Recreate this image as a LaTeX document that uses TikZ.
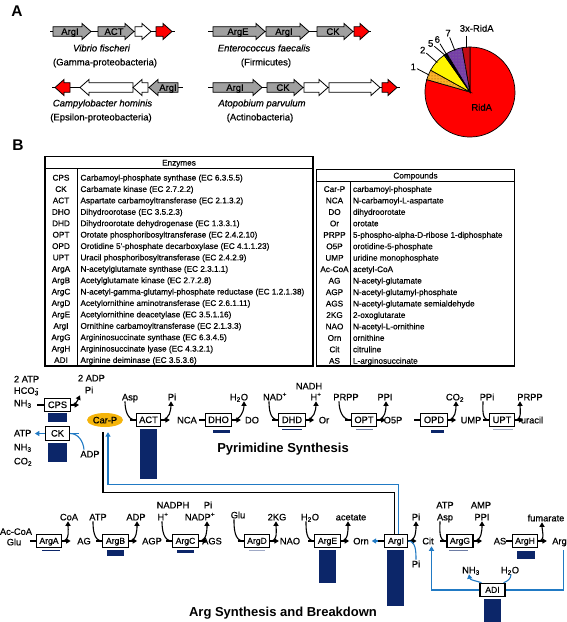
\documentclass[tikz,border=0pt]{standalone}
\usepackage{fontspec}
\setmainfont{Liberation Sans}
\newfontfamily\hv{Liberation Sans}[FakeBold=0.45]
\usetikzlibrary{arrows.meta,patterns,calc,shapes.geometric}
\definecolor{navy}{RGB}{12,38,105}
\definecolor{lineblue}{RGB}{33,122,196}
\definecolor{gold}{RGB}{245,180,10}
\definecolor{genegray}{RGB}{160,160,160}
\definecolor{pieorange}{RGB}{250,178,40}
\definecolor{pieyellow}{RGB}{255,245,0}
\definecolor{piepurple}{RGB}{118,62,168}
\definecolor{piedred}{RGB}{195,12,20}
\definecolor{thinbl}{RGB}{110,125,165}
\definecolor{lightbl}{RGB}{160,170,198}
\newcommand{\gR}[4]{\draw[gene,fill=#4] (#1,#3-4.8) -- (#2-9,#3-4.8) -- (#2-9,#3-8) -- (#2,#3) -- (#2-9,#3+8) -- (#2-9,#3+4.8) -- (#1,#3+4.8) -- cycle;}
\newcommand{\gL}[4]{\draw[gene,fill=#4] (#2,#3-4.8) -- (#1+9,#3-4.8) -- (#1+9,#3-8) -- (#1,#3) -- (#1+9,#3+8) -- (#1+9,#3+4.8) -- (#2,#3+4.8) -- cycle;}
\newcommand{\sbs}[3][-4]{\draw[rx] ([xshift=#1]#2.south) to[out=-90,in=180] (#3.west);}
\newcommand{\pds}[3][0]{\draw[rxa] (#3.east) to[out=0,in=-90] ([xshift=#1]#2.south);}
\newcommand{\tck}[1]{\draw[rx] ([xshift=-6]#1.west) -- (#1.west);}
\newcommand{\fwd}[1]{\draw[rxa] (#1.east) -- ++(8.5,0);}
\begin{document}
\begin{tikzpicture}[x=1pt,y=1pt,
  every node/.style={inner sep=0.8pt},
  pw/.style={font=\hv\fontsize{9.3}{10}\selectfont,text height=6.7pt,text depth=0pt},
  enzbox/.style={draw,line width=1.1pt,fill=white,minimum width=24pt,minimum height=13.5pt,inner xsep=3pt,inner ysep=1pt,text height=6.6pt,text depth=0.6pt,font=\hv\fontsize{9.3}{10}\selectfont},
  argbox/.style={enzbox,font=\hv\fontsize{8.6}{9}\selectfont,text height=6.2pt,minimum width=23pt},
  rx/.style={line width=1.1pt},
  rxa/.style={line width=1.1pt,-{Triangle[length=4.4pt,width=5pt]}},
  blx/.style={line width=1.1pt,draw=lineblue},
  blxa/.style={line width=1.1pt,draw=lineblue,-{Triangle[length=4.4pt,width=5pt]}},
  tabt/.style={font=\hv\fontsize{8.2}{9}\selectfont,text height=5.9pt,text depth=0pt},
  gene/.style={line width=0.8pt},
  genelab/.style={font=\hv\fontsize{9.5}{10}\selectfont,text height=6.8pt,text depth=0pt},
  spec/.style={font=\hv\fontsize{9.5}{10}\selectfont,text height=6.8pt,text depth=0pt},
  piel/.style={font=\hv\fontsize{9.5}{10}\selectfont,text height=6.8pt,text depth=0pt},
  ttl/.style={font=\bfseries\fontsize{13}{14}\selectfont,text height=9.3pt,text depth=0pt},
  panel/.style={font=\bfseries\fontsize{15.5}{16}\selectfont,text height=11pt,text depth=0pt},
]
\useasboundingbox (0,0) rectangle (567,-622);
\fill[white] (0,0) rectangle (567,-622);

% ---------------- Panel A ----------------
\node[panel] (lA) at (17,-11) {A};
% Vibrio
\draw[gene] (50,-31.5) -- (175,-31.5);
\gR{53}{91}{-31.5}{genegray}
\gR{98}{134}{-31.5}{genegray}
\gR{135}{151}{-31.5}{white}
\gR{156}{172}{-31.5}{red}
\node[genelab] (v1) at (70,-31.5) {ArgI};
\node[genelab] (v2) at (114,-31.5) {ACT};
\node[spec] (vn) at (101.5,-48) {\itshape Vibrio fischeri};
\node[spec] (vc) at (105,-62) {(Gamma-proteobacteria)};
% Enterococcus
\draw[gene] (208,-31.5) -- (371,-31.5);
\gR{213}{265}{-31.5}{genegray}
\gR{266}{309}{-31.5}{genegray}
\gR{317}{353}{-31.5}{genegray}
\gR{354}{369}{-31.5}{red}
\node[genelab] (e1) at (238,-31.5) {ArgE};
\node[genelab] (e2) at (284,-31.5) {ArgI};
\node[genelab] (e3) at (333,-31.5) {CK};
\node[spec] (en) at (264,-48) {\itshape Enterococcus faecalis};
\node[spec] (ec) at (266,-62) {(Firmicutes)};
% Campylobacter
\draw[gene] (52,-87.5) -- (183,-87.5);
\gL{55}{70}{-87.5}{red}
\gL{80}{133}{-87.5}{white}
\gL{133}{148}{-87.5}{white}
\gL{149}{178}{-87.5}{genegray}
\node[genelab] (c1) at (168,-87.5) {ArgI};
\node[spec] (cn) at (102.5,-103) {\itshape Campylobacter hominis};
\node[spec] (cc) at (101,-117) {(Epsilon-proteobacteria)};
% Atopobium
\draw[gene] (208,-87.5) -- (400,-87.5);
\gR{213}{262}{-87.5}{genegray}
\gR{267}{303}{-87.5}{genegray}
\gR{304}{328}{-87.5}{white}
\gR{329}{380}{-87.5}{white}
\gR{382}{397}{-87.5}{red}
\node[genelab] (a1) at (235,-87.5) {ArgI};
\node[genelab] (a2) at (283,-87.5) {CK};
\node[spec] (an) at (262,-103) {\itshape Atopobium parvulum};
\node[spec] (ac) at (260,-117) {(Actinobacteria)};

% pie
\coordinate (pc) at (470,-92);
\foreach \a/\b/\c in {164/450/red,151/164/pieorange,125/151/pieyellow,123/125/navy,121/123/black,100/121/piepurple,90/100/piedred}
  \draw[line width=0.7pt,fill=\c] (pc) -- ++(\a:45) arc[start angle=\a,end angle=\b,radius=45] -- cycle;
\fill[pattern=dots,pattern color=orange!55!black] (pc) -- ++(151:44) arc[start angle=151,end angle=164,radius=44] -- cycle;
\fill[pattern=dots,pattern color=black!45] (pc) -- ++(100:44) arc[start angle=100,end angle=121,radius=44] -- cycle;
\coordinate (s1) at ($(pc)+(157.5:44)$);
\coordinate (s2) at ($(pc)+(138:44)$);
\coordinate (s5) at ($(pc)+(124:44)$);
\coordinate (s6) at ($(pc)+(122:44)$);
\coordinate (s7) at ($(pc)+(110:44)$);
\coordinate (s3) at ($(pc)+(95:44)$);
\node[piel] (p1) at (413.3,-66.7) {1};
\node[piel] (p2) at (422.7,-50) {2};
\node[piel] (p5) at (430.7,-43.3) {5};
\node[piel] (p6) at (437.3,-39.3) {6};
\node[piel] (p7) at (448,-33) {7};
\node[piel] (p3) at (476.7,-28.3) {3x-RidA};
\node[piel] (pR) at (481.7,-107.3) {RidA};
\foreach \n in {1,2,5,6,7} \draw[line width=0.8pt] (p\n) -- (s\n);
\draw[line width=0.9pt] ([yshift=-3]p3.south -| s3) -- (s3);

% ---------------- Panel B tables ----------------
\node[panel] (lB) at (18,-145) {B};
\draw[line width=1.4pt] (45,-156.7) rectangle (313,-366);
\draw[line width=1pt] (45,-168.5) -- (313,-168.5);
\draw[line width=1pt] (77.3,-168.5) -- (77.3,-366);
\node[tabt] (eh) at (179,-162.6) {Enzymes};
\foreach \ab/\de [count=\i from 0] in {CPS/Carbamoyl-phosphate synthase (EC 6.3.5.5),CK/Carbamate kinase (EC 2.7.2.2),ACT/Aspartate carbamoyltransferase (EC 2.1.3.2),DHO/Dihydroorotase (EC 3.5.2.3),DHD/Dihydroorotate dehydrogenase (EC 1.3.3.1),OPT/Orotate phosphoribosyltransferase (EC 2.4.2.10),OPD/Orotidine 5'-phosphate decarboxylase (EC 4.1.1.23),UPT/Uracil phosphoribosyltransferase (EC 2.4.2.9),ArgA/N-acetylglutamate synthase (EC 2.3.1.1),ArgB/Acetylglutamate kinase (EC 2.7.2.8),ArgC/N-acetyl-gamma-glutamyl-phosphate reductase (EC 1.2.1.38),ArgD/Acetylornithine aminotransferase (EC 2.6.1.11),ArgE/Acetylornithine deacetylase (EC 3.5.1.16),ArgI/Ornithine carbamoyltransferase (EC 2.1.3.3),ArgG/Argininosuccinate synthase (EC 6.3.4.5),ArgH/Argininosuccinate lyase (EC 4.3.2.1),ADI/Arginine deiminase (EC 3.5.3.6)}
{
  \node[tabt] (ea\i) at (61,{-177.6-11.4*\i}) {\ab};
  \node[tabt,anchor=west] (ed\i) at (79.5,{-177.6-11.4*\i}) {\de};
}
\draw[line width=1.4pt] (316.7,-169.3) rectangle (514.3,-366);
\draw[line width=1pt] (316.7,-181.7) -- (514.3,-181.7);
\draw[line width=1pt] (350,-181.7) -- (350,-366);
\node[tabt] (ch) at (415.5,-175.5) {Compounds};
\foreach \ab/\de [count=\i from 0] in {Car-P/carbamoyl-phosphate,NCA/N-carbamoyl-L-aspartate,DO/dihydroorotate,Or/orotate,PRPP/5-phospho-alpha-D-ribose 1-diphosphate,O5P/orotidine-5-phosphate,UMP/uridine monophosphate,Ac-CoA/acetyl-CoA,AG/N-acetyl-glutamate,AGP/N-acetyl-glutamyl-phosphate,AGS/N-acetyl-glutamate semialdehyde,2KG/2-oxoglutarate,NAO/N-acetyl-L-ornithine,Orn/ornithine,Cit/citruline,AS/L-arginosuccinate}
{
  \node[tabt] (ca\i) at (334.5,{-189-11.45*\i}) {\ab};
  \node[tabt,anchor=west] (cd\i) at (352,{-189-11.45*\i}) {\de};
}

% ---------------- Pyrimidine row ----------------
\node[pw,anchor=west] (ATP2) at (13,-379) {2 ATP};
\node[pw,anchor=west] (HCO) at (13,-390.5) {HCO\textsubscript{3}\llap{\textsuperscript{-}}};
\node[pw,anchor=west] (NH3a) at (13,-403) {NH\textsubscript{3}};
\node[pw,anchor=west] (ADP2) at (77,-378) {2 ADP};
\node[pw,anchor=west] (Pia) at (84,-390) {Pi};
\node[enzbox] (CPS) at (57.5,-405) {CPS};
\coordinate (cpsout) at (79,-405);
\draw[rx] ([xshift=-7]CPS.west) -- (CPS.west);
\draw[rxa] (CPS.east) -- (cpsout);
\draw[rxa] (CPS.east) to[out=0,in=-115] ([xshift=-4,yshift=-1]Pia.south west);
\fill[navy] (48,-413) rectangle (67,-422);

\node[enzbox] (CK) at (57.5,-433.5) {CK};
\node[pw,anchor=west] (ATPk) at (13,-433) {ATP};
\node[pw,anchor=west] (NH3k) at (13,-447) {NH\textsubscript{3}};
\node[pw,anchor=west] (CO2k) at (13,-461) {CO\textsubscript{2}};
\node[pw] (ADPk) at (90,-454) {ADP};
\coordinate (ckin) at (79,-433.5);
\draw[blx] (ckin) -- (CK.east);
\draw[blxa,shorten >=2.5pt] (CK.west) -- (ATPk.east |- CK.west);
\draw[blx] ([xshift=-6]ADPk.north) to[out=95,in=0] (CK.east);
\fill[navy] (48,-443) rectangle (67,-462);

\node[ellipse,fill=gold,minimum width=36pt,minimum height=14pt,inner sep=0pt,pw] (CarP) at (105,-420) {Car-P};

\node[pw] (Asp1) at (130,-397) {Asp};
\node[enzbox] (ACT) at (148.5,-420) {ACT};
\node[pw] (Pi1) at (172,-397) {Pi};
\node[pw] (NCA) at (187,-420) {NCA};
\tck{ACT} \sbs[-5]{Asp1}{ACT} \pds[-1]{Pi1}{ACT} \fwd{ACT}
\fill[navy] (140,-429) rectangle (157,-479);

\node[enzbox] (DHO) at (218.5,-420) {DHO};
\node[pw] (H2Oa) at (239,-397) {H\textsubscript{2}O};
\node[pw] (DO) at (252,-420) {DO};
\tck{DHO} \pds[5]{H2Oa}{DHO} \fwd{DHO}
\fill[navy] (213,-430) rectangle (230,-433);

\node[pw] (NADp) at (275,-397) {NAD\textsuperscript{+}};
\node[enzbox] (DHD) at (292,-420) {DHD};
\node[pw] (NADH) at (309,-386) {NADH};
\node[pw] (Hp1) at (316,-397) {H\textsuperscript{+}};
\node[pw] (Or) at (324,-420) {Or};
\tck{DHD} \sbs[-6]{NADp}{DHD} \pds[0]{Hp1}{DHD} \fwd{DHD}
\draw[navy,line width=1.2pt] (282,-429.5) -- (302,-429.5);

\node[pw] (PRPPa) at (346,-397) {PRPP};
\node[enzbox] (OPT) at (364,-420) {OPT};
\node[pw] (PPIa) at (385,-397) {PPI};
\node[pw] (O5P) at (393,-420) {O5P};
\tck{OPT} \sbs[-7]{PRPPa}{OPT} \pds[1]{PPIa}{OPT} \fwd{OPT}
\draw[thinbl,line width=1pt] (356,-429.5) -- (373,-429.5);

\node[enzbox] (OPD) at (434,-420) {OPD};
\node[pw] (CO2a) at (455,-397) {CO\textsubscript{2}};
\node[pw] (UMP) at (471,-420) {UMP};
\tck{OPD} \pds[1]{CO2a}{OPD} \fwd{OPD}
\fill[navy] (431,-430) rectangle (444,-433);

\node[pw] (PPia) at (487,-397) {PPi};
\node[enzbox] (UPT) at (502,-420) {UPT};
\node[pw] (PRPPb) at (530,-397) {PRPP};
\node[pw] (uracil) at (532,-420) {uracil};
\tck{UPT} \sbs[-4]{PPia}{UPT} \pds[-10]{PRPPb}{UPT} \fwd{UPT}
\draw[lightbl,line width=1pt] (493,-429.5) -- (513,-429.5);

\node[ttl] (tPyr) at (283,-448) {Pyrimidine Synthesis};

% ---------------- Arg row ----------------
\node[pw] (AcCoA) at (16,-531.5) {Ac-CoA};
\node[pw] (GluA) at (14,-542) {Glu};
\node[argbox] (ArgA) at (49,-541) {ArgA};
\node[pw] (CoA) at (69,-517) {CoA};
\node[pw] (AG) at (84,-541) {AG};
\tck{ArgA} \pds[-1]{CoA}{ArgA} \fwd{ArgA}
\draw[navy,line width=1pt] (42,-550) -- (60,-550);

\node[pw] (ATPb) at (98,-517) {ATP};
\node[argbox] (ArgB) at (115.5,-541) {ArgB};
\node[pw] (ADPb) at (136,-517) {ADP};
\node[pw] (AGP) at (152,-541) {AGP};
\tck{ArgB} \sbs[-5]{ATPb}{ArgB} \pds[1]{ADPb}{ArgB} \fwd{ArgB}
\fill[navy] (107,-550) rectangle (124,-556);

\node[pw] (NADPH) at (173,-505) {NADPH};
\node[pw] (Hpb) at (163,-517) {H\textsuperscript{+}};
\node[argbox] (ArgC) at (185.5,-541) {ArgC};
\node[pw] (Pib) at (208,-505) {Pi};
\node[pw] (NADPp) at (200,-517) {NADP\textsuperscript{+}};
\node[pw] (AGS) at (212,-541) {AGS};
\tck{ArgC} \sbs[-1]{Hpb}{ArgC} \pds[7]{NADPp}{ArgC} \fwd{ArgC}
\fill[navy] (177,-550) rectangle (194,-553);

\node[pw] (GluD) at (238,-515) {Glu};
\node[argbox] (ArgD) at (257,-541) {ArgD};
\node[pw] (KG) at (277,-517) {2KG};
\node[pw] (NAO) at (290,-541) {NAO};
\tck{ArgD} \sbs[-4]{GluD}{ArgD} \pds[-1]{KG}{ArgD} \fwd{ArgD}
\draw[lightbl,line width=1pt] (249,-550) -- (265,-550);

\node[pw] (H2Ob) at (310,-517) {H\textsubscript{2}O};
\node[argbox] (ArgE) at (327.5,-541) {ArgE};
\node[pw] (acetate) at (351,-517) {acetate};
\node[pw] (Orn) at (361,-541) {Orn};
\tck{ArgE} \sbs[-4]{H2Ob}{ArgE} \pds[-3]{acetate}{ArgE} \fwd{ArgE}
\fill[navy] (319,-550) rectangle (336,-583);

\node[argbox] (ArgI) at (396,-541) {ArgI};
\node[pw] (Pic) at (416,-517) {Pi};
\node[pw] (Pid) at (416,-564) {Pi};
\node[pw] (Cit) at (428,-541) {Cit};
\draw[blxa,shorten >=2pt] ([xshift=-5]ArgI.west) -- (Orn.east);
\tck{ArgI} \pds[0]{Pic}{ArgI} \fwd{ArgI}
\draw[blx] (Pid.north) to[out=90,in=0] (ArgI.east);
\fill[navy] (387,-550) rectangle (404,-606);

\node[pw] (ATPg) at (445,-505) {ATP};
\node[pw] (Aspg) at (445,-517) {Asp};
\node[argbox] (ArgG) at (460,-541) {ArgG};
\node[pw] (AMP) at (481,-505) {AMP};
\node[pw] (PPIg) at (482,-517) {PPI};
\node[pw] (AS) at (500,-541) {AS};
\tck{ArgG} \sbs[-5]{Aspg}{ArgG} \pds[0]{PPIg}{ArgG} \fwd{ArgG}
\draw[thinbl,line width=1pt] (449,-550) -- (468,-550);

\node[argbox] (ArgH) at (525,-541) {ArgH};
\node[pw] (fum) at (546,-518) {fumarate};
\node[pw] (Arg) at (559.5,-541) {Arg};
\tck{ArgH} \pds[-4]{fum}{ArgH} \fwd{ArgH}
\fill[navy] (517,-551) rectangle (535,-559);

% ADI
\node[argbox,minimum width=25pt] (ADI) at (492.5,-590) {ADI};
\node[pw] (NH3d) at (471,-570) {NH\textsubscript{3}};
\node[pw] (H2Od) at (510,-570) {H\textsubscript{2}O};
\draw[blx] ([xshift=4,yshift=-5]Arg.south) |- (ADI.east);
\draw[blxa,shorten >=1pt] (ADI.west) -| ([xshift=3.5]Cit.south);
\draw[blxa] ([xshift=2]ADI.north west) to[out=160,in=-80] ([xshift=-2]NH3d.south);
\draw[blx] ([xshift=1]H2Od.south) to[out=-90,in=20] ([xshift=-2]ADI.north east);
\fill[navy] (484,-599) rectangle (501,-622);

% Car-P links
\draw[rx] ([shift={(-2,-5)}]CarP.south) -- ++(0,-60) -| ([xshift=-1.5]ArgI.north);
\draw[blxa] ([xshift=2.5]ArgI.north) -- ++(0,49) -| ([shift={(3,-5)}]CarP.south);

\node[ttl] (tArg) at (283,-612) {Arg Synthesis and Breakdown};
\end{tikzpicture}
\end{document}
